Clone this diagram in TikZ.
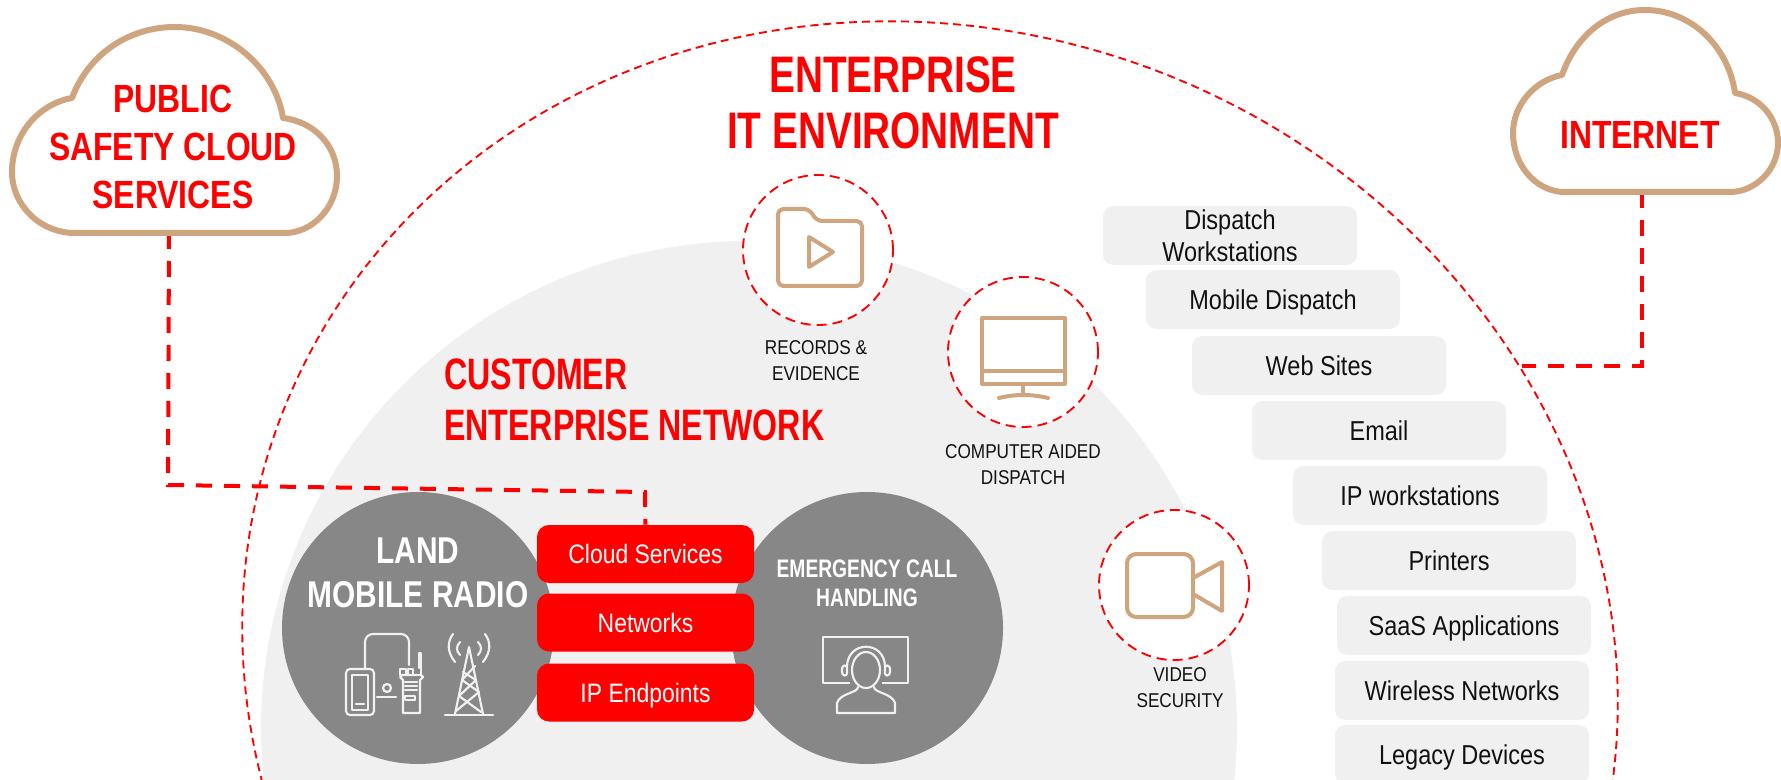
\documentclass[tikz,border=0pt]{standalone}
\usepackage{fontspec}
\setmainfont{Liberation Sans}[FakeStretch=0.86]
\newfontfamily\famtitle{Liberation Sans}[FakeStretch=0.755]
\newfontfamily\famsub{Liberation Sans}[FakeStretch=0.73]
\newfontfamily\famcloud{Liberation Sans}[FakeStretch=0.81]
\newfontfamily\famdisc{Liberation Sans}[FakeStretch=0.80]
\newfontfamily\famdiscb{Liberation Sans}[FakeStretch=0.76]
\definecolor{tan}{HTML}{CFA57F}
\definecolor{pale}{HTML}{F0F0F0}
\definecolor{disc}{HTML}{878787}
\definecolor{ink}{HTML}{111111}
\newcommand{\pxfont}[2]{\fontsize{#1}{#2}\selectfont}
\tikzset{
  cloudline/.style={draw=tan,line width=4.5pt,fill=white,line join=round},
  bigdash/.style={draw=red,line width=1.4pt,dash pattern=on 6pt off 3.75pt},
  ring/.style={draw=red,fill=white,line width=1.4pt,dash pattern=on 7.5pt off 4.5pt},
  link/.style={draw=red,line width=3pt,dash pattern=on 12pt off 9pt},
  icon/.style={draw=tan,line width=3pt,line join=round},
  wicon/.style={draw=white!88!disc,line width=1.6pt,line join=round,line cap=round},
  pillbase/.style={fill=pale,rounded corners=7.5pt,minimum width=190.5pt,minimum height=44pt,inner sep=0pt,text=ink,font=\pxfont{20.5}{24},align=center},
  pill/.style={pillbase,text height=14.6pt,text depth=0pt},
  redbox/.style={fill=red,rounded corners=9pt,minimum width=162.75pt,minimum height=43.5pt,inner sep=0pt,text=white,font=\pxfont{20}{24},text height=14.3pt,text depth=0pt},
  title/.style={text=red,font=\famtitle\bfseries\pxfont{38.5}{42},align=center,inner sep=0pt},
  subtitle/.style={text=red,font=\famsub\bfseries\pxfont{33}{38},align=left,inner sep=0pt},
  cloudtext/.style={text=red,font=\famcloud\bfseries\pxfont{29.5}{36},align=center,inner sep=0pt},
  caption/.style={text=ink,font=\pxfont{15}{19.5},align=center,inner sep=0pt},
  disctext/.style={text=white,font=\famdisc\bfseries\pxfont{28}{33},align=center,inner sep=0pt},
  disctextb/.style={text=white,font=\famdiscb\bfseries\pxfont{19}{22},align=center,inner sep=0pt}
}
\begin{document}
\begin{tikzpicture}[x=0.75pt,y=-0.75pt]
\useasboundingbox (0,0) rectangle (1781,780);
\clip (0,0) rectangle (1781,780);
% environment outline (slightly tilted ellipse) and customer network
\draw[bigdash] plot[domain=0:360,samples=240,smooth cycle]
  ({930+695*cos(\x)*cos(20.8)-636*sin(\x)*sin(20.8)},{665+695*cos(\x)*sin(20.8)+636*sin(\x)*cos(20.8)});
\fill[pale] (749,729) circle[radius=488];

% named anchors on clouds
\coordinate (cloudLb) at (169,233);
\coordinate (cloudRb) at (1642,192);
\coordinate (bendA) at (168,485);
\coordinate (bendB) at (645,492);
\coordinate (bendC) at (1642,366);
\coordinate (freeEnd) at (1522,366);

% left and right discs
\node[circle,fill=disc,minimum size=204pt,inner sep=0pt] (lmr) at (418,628) {};
\node[circle,fill=disc,minimum size=204pt,inner sep=0pt] (ech) at (867,628) {};

% red boxes
\node[redbox] (boxcloud) at (645.5,554) {Cloud Services};
\node[redbox] (boxnet) at (645.5,622.5) {Networks};
\node[redbox] (boxip) at (645.5,692.5) {IP Endpoints};

% connectors
\draw[link] (cloudLb) -- (bendA) -- (bendB) -- (boxcloud.north);
\draw[link] (cloudRb) -- (bendC) -- (freeEnd);

% clouds
\draw[cloudline] (75,233) .. controls (40,233) and (12,205) .. (12,172)
  .. controls (12,135) and (38,104) .. (72,98)
  .. controls (88,55) and (128,27) .. (175,27)
  .. controls (228,27) and (275,68) .. (283,118)
  .. controls (315,122) and (337,146) .. (337,176)
  .. controls (337,208) and (312,233) .. (285,233) -- cycle;
\draw[cloudline] (1562,192) .. controls (1535,190) and (1513,165) .. (1513,133)
  .. controls (1513,105) and (1535,80) .. (1562,75)
  .. controls (1575,38) and (1605,10) .. (1645,10)
  .. controls (1690,10) and (1728,45) .. (1735,93)
  .. controls (1760,97) and (1778,118) .. (1778,143)
  .. controls (1778,170) and (1755,192) .. (1730,192) -- cycle;
\node[cloudtext] (tpublic) at (173,147) {PUBLIC\\SAFETY CLOUD\\SERVICES};
\node[cloudtext] (tinternet) at (1640,135) {INTERNET};

% titles
\node[title] (tenv) at (893,103) {ENTERPRISE\\IT ENVIRONMENT};
\node[subtitle,anchor=west] (tcust) at (444,400) {CUSTOMER\\ENTERPRISE NETWORK};

% rings
\node[circle,ring,minimum size=112.5pt,inner sep=0pt] (rrec) at (818,250) {};
\node[circle,ring,minimum size=112.5pt,inner sep=0pt] (rcad) at (1023,352) {};
\node[circle,ring,minimum size=112.5pt,inner sep=0pt] (rvid) at (1174,585) {};
\node[caption] (crec) at (816,361) {RECORDS \&\\EVIDENCE};
\node[caption] (ccad) at (1023,465) {COMPUTER AIDED\\DISPATCH};
\node[caption] (cvid) at (1180,688) {VIDEO\\SECURITY};

% folder icon
\draw[icon,rounded corners=4pt] (778,209) -- (809,209) -- (817,221) -- (862,221) -- (862,286) -- (778,286) -- cycle;
\draw[icon] (809,237) -- (833,252) -- (809,267) -- cycle;
% monitor icon
\draw[icon] (982,318) rectangle (1065,384);
\draw[icon] (982,371) -- (1065,371);
\draw[icon] (1023,384) -- (1023,396);
\draw[icon,line cap=round] (999,398) .. controls (1015,394) and (1032,394) .. (1048,398);
% camera icon
\draw[icon,rounded corners=7pt] (1127,554) rectangle (1193,617);
\draw[icon] (1193,578) -- (1222,562) -- (1222,611) -- (1193,594);

% disc text
\node[disctext] (tlmr) at (418,573) {LAND\\MOBILE RADIO};
\node[disctextb] (tech) at (867,583.5) {EMERGENCY CALL\\HANDLING};

% handheld and radio icon
\draw[wicon,rounded corners=3pt] (346,669) rectangle (374,715);
\draw[wicon] (352,675) rectangle (368,710);
\draw[wicon] (356,704) -- (364,704);
\draw[wicon,rounded corners=6pt] (365,669) -- (365,634) -- (409,634) -- (409,665);
\draw[wicon] (387,688) circle[radius=4];
\draw[wicon] (377,697) -- (396,697);
\draw[wicon] (402,675) -- (400,677) -- (403,680) -- (403,713) -- (420,713) -- (420,680) -- (423,677) -- (421,675) -- cycle;
\draw[wicon] (400,675) -- (400,669) -- (406,669) -- (406,675) (408,675) -- (408,669) -- (413,669) -- (413,675);
\draw[wicon] (419,668) -- (419,653) -- (421,653) -- (421,675);
\draw[wicon] (405,682) -- (417,682) (405,686) -- (417,686) (405,690) -- (417,690);
\draw[wicon] (405,696) rectangle (415,700);
% tower icon
\draw[wicon] (455,714) -- (469,647) -- (483,714);
\draw[wicon] (445,715) -- (493,715);
\draw[wicon] (463,672) -- (476,680) -- (459,696) -- (481,712) (475,666) -- (462,680) -- (479,692) -- (456,711);
\draw[wicon] (453,634) .. controls (447,642) and (447,652) .. (455,662);
\draw[wicon] (460,642) .. controls (456,646) and (456,651) .. (460,655);
\draw[wicon] (485,634) .. controls (491,642) and (491,652) .. (483,662);
\draw[wicon] (478,642) .. controls (482,646) and (482,651) .. (478,655);
% operator icon
\draw[wicon,line cap=butt] (850,683) -- (823,683) -- (823,637) -- (908,637) -- (908,683) -- (882,683);
\draw[wicon] (866,670) ellipse[x radius=14,y radius=18];
\draw[wicon] (847,667) .. controls (847,640) and (885,640) .. (885,667);
\draw[wicon,rounded corners=2pt] (847,665) -- (842,666) -- (842,675) -- (847,676) -- cycle;
\draw[wicon,rounded corners=2pt] (885,665) -- (890,666) -- (890,675) -- (885,676) -- cycle;
\draw[wicon] (858,687) .. controls (858,693) and (840,693) .. (837,703) -- (837,713) -- (895,713) -- (895,703) .. controls (892,693) and (874,693) .. (874,687);

% list pills
\node[pillbase] (p1) at (1230,235.5) {Dispatch\\Workstations};
\node[pill] (p2) at (1273,299.5) {Mobile Dispatch};
\node[pill] (p3) at (1319,365.5) {Web Sites};
\node[pill] (p4) at (1379,430.5) {Email};
\node[pill] (p5) at (1420,495.5) {IP workstations};
\node[pill] (p6) at (1449,560.5) {Printers};
\node[pill] (p7) at (1464,625.5) {SaaS Applications};
\node[pill] (p8) at (1462,690.5) {Wireless Networks};
\node[pill] (p9) at (1462,754.5) {Legacy Devices};
\end{tikzpicture}
\end{document}
